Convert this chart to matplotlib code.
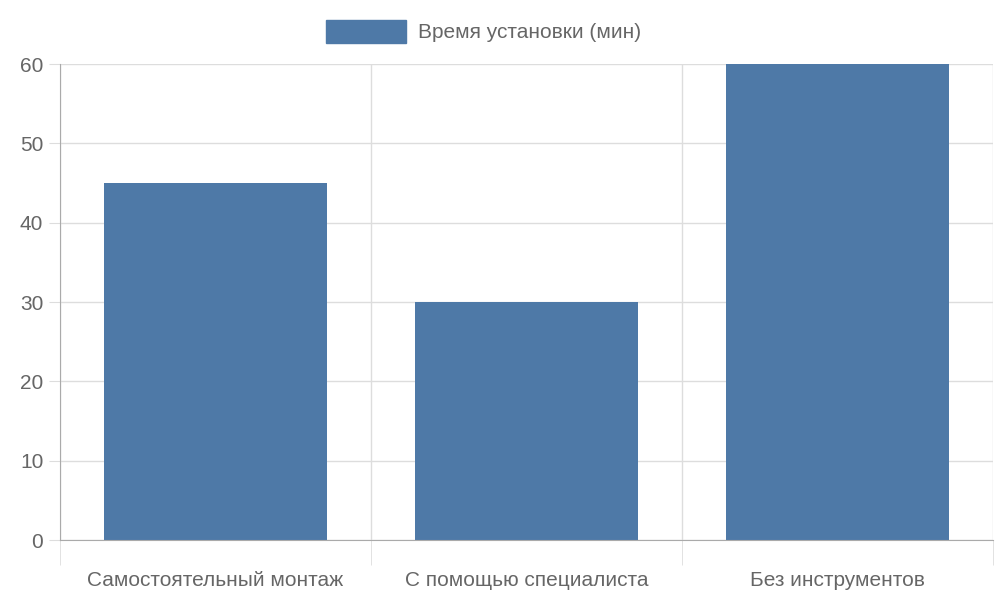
import matplotlib.pyplot as plt
from matplotlib.patches import Rectangle

categories = ["Самостоятельный монтаж", "С помощью специалиста", "Без инструментов"]
minutes = [45, 30, 60]
series_name = "Время установки (мин)"

plt.rcParams["font.family"] = ["Liberation Sans", "DejaVu Sans"]
text_color = "#666666"
grid_color = "#dddddd"
bar_color = "#4e79a7"

fig = plt.figure(figsize=(10, 6), dpi=100)
ax = fig.add_axes([0.06, 0.1, 0.933, 0.7933])

x = list(range(len(categories)))
ax.bar(x, minutes, width=0.72, color=bar_color, zorder=2)

ax.set_xlim(-0.5, len(categories) - 0.5)
ax.set_ylim(0, 60)
ax.set_yticks(range(0, 61, 10))
ax.set_xticks(x)
ax.set_xticklabels(categories)

# category separators as grid lines
ax.set_xticks([i + 0.5 for i in range(-1, len(categories))], minor=True)
ax.grid(True, axis="y", color=grid_color, lw=1, zorder=0)
ax.grid(True, axis="x", which="minor", color=grid_color, lw=1, zorder=0)

ax.tick_params(axis="x", which="major", length=0, pad=22, labelsize=15, colors=text_color)
ax.tick_params(axis="x", which="minor", length=18, color=grid_color)
ax.tick_params(axis="y", length=8, color=grid_color, labelsize=15, colors=text_color, pad=4)
ax.tick_params(axis="y", color=grid_color)

for side in ["top", "right"]:
    ax.spines[side].set_visible(False)
ax.spines["left"].set_color("#aaaaaa")
ax.spines["bottom"].set_color("#aaaaaa")

# legend
fig.patches.append(Rectangle((0.326, 1 - 43 / 600), 0.080, 23 / 600,
                             transform=fig.transFigure, color=bar_color))
fig.text(0.418, 1 - 32 / 600, series_name, va="center", ha="left",
         fontsize=15, color=text_color)

fig.savefig("out.png", dpi=100)
